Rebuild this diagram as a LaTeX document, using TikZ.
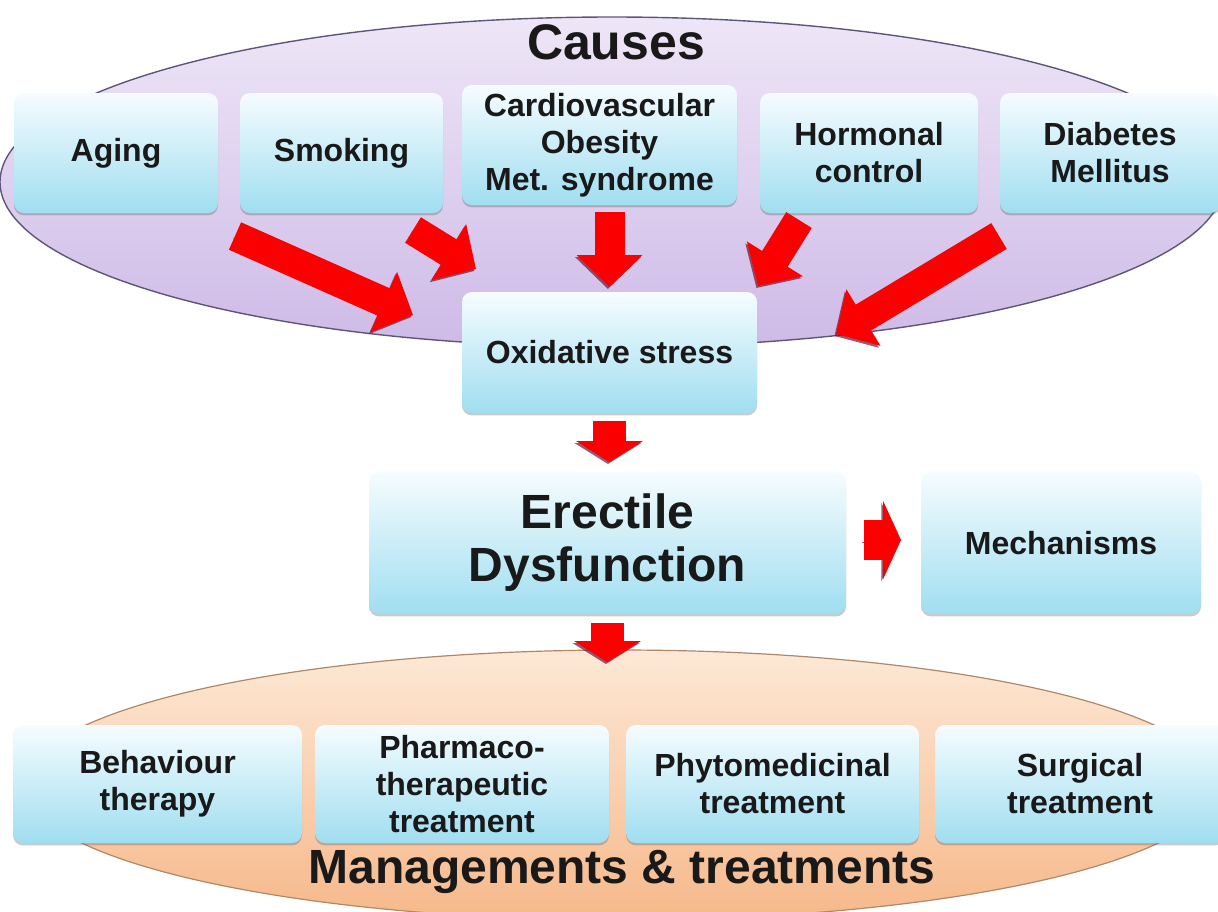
\documentclass[tikz,border=0pt]{standalone}
\usepackage{fontspec}
\setmainfont{Liberation Sans}
\usetikzlibrary{shapes.geometric, arrows.meta, positioning, calc, shadows}

\definecolor{boxtop}{RGB}{246,252,255}
\definecolor{boxblue}{RGB}{160,222,240}
\definecolor{lilactop}{RGB}{238,230,247}
\definecolor{lilacbot}{RGB}{206,186,231}
\definecolor{lilacedge}{RGB}{95,85,120}
\definecolor{peachtop}{RGB}{253,233,214}
\definecolor{peachbot}{RGB}{246,184,138}
\definecolor{peachedge}{RGB}{175,135,105}
\definecolor{arrowred}{RGB}{250,0,0}
\definecolor{arrowshade}{RGB}{110,20,50}

\begin{document}
\begin{tikzpicture}[
    x=0.5pt, y=-0.5pt,
    every node/.style={font=\bfseries\fontsize{16}{18.5}\selectfont, text=black!90,
        align=center, inner sep=0pt, outer sep=0pt},
    cbox/.style={rounded corners=5pt, top color=boxtop, bottom color=boxblue,
        minimum height=60pt,
        drop shadow={shadow xshift=0pt, shadow yshift=-1.2pt, opacity=0.35, fill=black!60}},
    blob/.style={ellipse, line width=0.7pt},
    fatarrow/.style={draw=arrowred, line width=15pt, -{Triangle[length=16pt, width=32pt]},
        preaction={draw=arrowshade, opacity=0.7, transform canvas={shift={(-0.8pt,-1pt)}}}},
    downarrow/.style={fatarrow, line width=16.5pt, -{Triangle[length=10.5pt, width=33pt]}},
    sidearrow/.style={fatarrow, line width=20pt, -{Triangle[length=9pt, width=39pt]}}
]
\useasboundingbox (0,0) rectangle (1218,911);
\clip (0,0) rectangle (1218,911);

% Backgrounds
\node[blob, minimum width=612pt, minimum height=165pt, top color=lilactop,
    bottom color=lilacbot, draw=lilacedge] (causesbg) at (612,182) {};
\node[blob, minimum width=596pt, minimum height=135pt, top color=peachtop,
    bottom color=peachbot, draw=peachedge, line width=0.6pt] (mgmtbg) at (620,785) {};

\node[font=\bfseries\fontsize{25}{28}\selectfont] (causes) at (616,42) {Causes};
\node[font=\bfseries\fontsize{24}{27}\selectfont] (mgmt) at (622,872) {Managements \& treatments};

% Causes
\node[cbox, minimum width=102pt] (aging) at (116,153) {Aging};
\node[cbox, minimum width=101.5pt] (smoking) at (341.5,153) {Smoking};
\node[cbox, minimum width=137.5pt] (cardio) at (599.5,145) {Cardiovascular\\Obesity\\Met. syndrome};
\node[cbox, minimum width=109pt] (hormonal) at (869,153) {Hormonal\\control};
\node[cbox, minimum width=110pt] (diabetes) at (1110,153) {Diabetes\\Mellitus};

% Middle
\node[cbox, minimum width=147.5pt, minimum height=60.5pt] (ox) at (609.5,352.5) {Oxidative stress};
\node[cbox, minimum width=238.5pt, minimum height=71pt,
    font=\bfseries\fontsize{24}{26.5}\selectfont] (ed) at (607.5,543) {Erectile\\Dysfunction};
\node[cbox, minimum width=140pt, minimum height=71pt] (mech) at (1061,543) {Mechanisms};

% Treatments
\node[cbox, minimum width=144.5pt, minimum height=59pt] (behaviour) at (157.5,784) {Behaviour\\therapy};
\node[cbox, minimum width=147pt, minimum height=59pt] (pharmaco) at (462,784) {Pharmaco-\\therapeutic\\treatment};
\node[cbox, minimum width=146.5pt, minimum height=59pt] (phyto) at (772.5,784) {Phytomedicinal\\treatment};
\node[cbox, minimum width=145pt, minimum height=59pt] (surgical) at (1080,784) {Surgical\\treatment};

% Arrows
\draw[fatarrow] ($(aging.south east)+(17,23)$) -- ($(ox.west)+(-49,-37.5)$);
\draw[fatarrow] ($(smoking.south east)+(-30,17)$) -- ($(ox.north west)+(14,-23)$);
\draw[fatarrow] ($(cardio.south -| ox.north)+(0,7)$) -- ($(ox.north)+(0,-5)$);
\draw[fatarrow] ($(hormonal.south west)+(39,7)$) -- ($(ox.north east)+(1,-6)$);
\draw[fatarrow] ($(diabetes.south west)+(-1,23)$) -- ($(ox.east)+(79,-18.5)$);

\draw[downarrow] ($(ox.south)+(0,8)$) -- ($(ox.south |- ed.north)+(0,-10)$);
\draw[sidearrow] ($(ed.east)+(18,-3)$) -- ($(mech.west)+(-20,-3)$);
\draw[downarrow] ($(ed.south)+(0,9)$) -- ($(ed.south |- mgmtbg.north)+(0,12)$);
\end{tikzpicture}
\end{document}
